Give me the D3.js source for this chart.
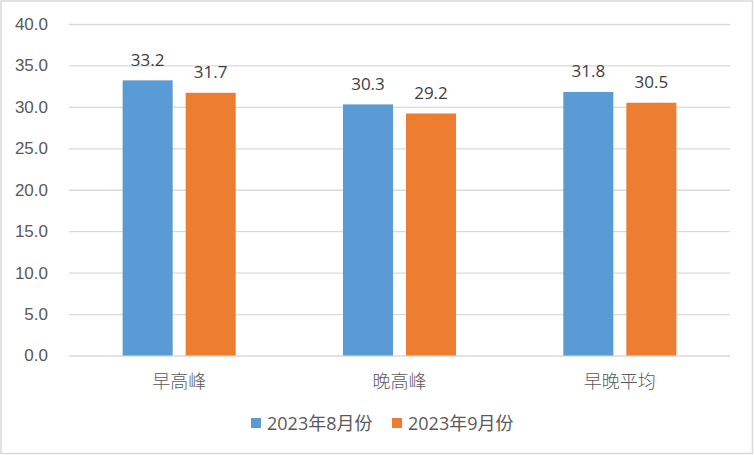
<!DOCTYPE html>
<html>
<head>
<meta charset="utf-8">
<script src="https://cdn.jsdelivr.net/npm/d3@7"></script>
<style>
  body { margin: 0; background: #fff; }
  svg { display: block; font-family: "Open Sans", "Noto Sans CJK SC", sans-serif; }
</style>
</head>
<body>
<div id="chart"></div>
<script>
const categories = ['早高峰', '晚高峰', '早晚平均']
const seriesNames = ['2023年8月份', '2023年9月份']
const aug = [33.2, 30.3, 31.8]
const sep = [31.7, 29.2, 30.5]
const yTicks = [0, 5, 10, 15, 20, 25, 30, 35, 40]
const colors = ['#5b9bd5', '#ed7d31']

const width = 754
const height = 455
const plot = { left: 69, right: 730, top: 24, bottom: 355.5 }

const svg = d3.select('#chart').append('svg')
    .attr('width', width)
    .attr('height', height)

svg.append('rect')
    .attr('x', 1).attr('y', 1)
    .attr('width', width - 2.5).attr('height', height - 2.5)
    .attr('fill', '#fff')
    .attr('stroke', '#d9d9d9')
    .attr('stroke-width', 1.5)

const x0 = d3.scaleBand()
    .domain(categories)
    .range([plot.left, plot.right])

const x1 = d3.scaleBand()
    .domain(seriesNames)
    .range([0, x0.bandwidth()])
    .paddingInner(0.206)
    .paddingOuter(0.851)

const y = d3.scaleLinear()
    .domain([0, 40])
    .range([plot.bottom, plot.top])

// grid + y labels
const yAxis = d3.axisLeft(y)
    .tickValues(yTicks)
    .tickFormat(d3.format('.1f'))
    .tickSize(-(plot.right - plot.left))
    .tickPadding(21)

const gy = svg.append('g')
    .attr('transform', `translate(${plot.left},0)`)
    .call(yAxis)
gy.select('.domain').remove()
gy.selectAll('line').attr('stroke', '#d9d9d9').attr('stroke-width', 1.3)
gy.selectAll('text')
    .attr('fill', '#595959')
    .style('font-size', '17px')

// bars
const rows = categories.map((c, i) => ({ cat: c, values: [aug[i], sep[i]] }))

const groups = svg.append('g').selectAll('g')
    .data(rows)
    .enter()
    .append('g')
    .attr('transform', d => `translate(${x0(d.cat)},0)`)

groups.selectAll('rect')
    .data(d => d.values.map((v, j) => ({ name: seriesNames[j], value: v, j: j })))
    .enter()
    .append('rect')
    .attr('x', d => x1(d.name))
    .attr('width', x1.bandwidth())
    .attr('y', d => y(d.value))
    .attr('height', d => y(0) - y(d.value))
    .attr('fill', d => colors[d.j])

groups.selectAll('text')
    .data(d => d.values.map((v, j) => ({ name: seriesNames[j], value: v })))
    .enter()
    .append('text')
    .attr('x', d => x1(d.name) + x1.bandwidth() / 2)
    .attr('y', d => y(d.value) - 14.5)
    .attr('text-anchor', 'middle')
    .attr('fill', '#404040')
    .style('font-size', '17px')
    .text(d => d3.format('.1f')(d.value))

// category labels
svg.append('g').selectAll('text')
    .data(categories)
    .enter()
    .append('text')
    .attr('x', d => x0(d) + x0.bandwidth() / 2)
    .attr('y', 388)
    .attr('text-anchor', 'middle')
    .attr('fill', '#595959')
    .style('font-size', '18px')
    .style('font-weight', 300)
    .text(d => d)

// legend
const legendX = [251, 392]
const legend = svg.append('g').selectAll('g')
    .data(seriesNames)
    .enter()
    .append('g')
    .attr('transform', (d, i) => `translate(${legendX[i]},418)`)

legend.append('rect')
    .attr('width', 10)
    .attr('height', 10)
    .attr('fill', (d, i) => colors[i])

legend.append('text')
    .attr('x', 16)
    .attr('y', 11.5)
    .attr('fill', '#595959')
    .style('font-size', '18px')
    .text(d => d)
</script>
</body>
</html>
